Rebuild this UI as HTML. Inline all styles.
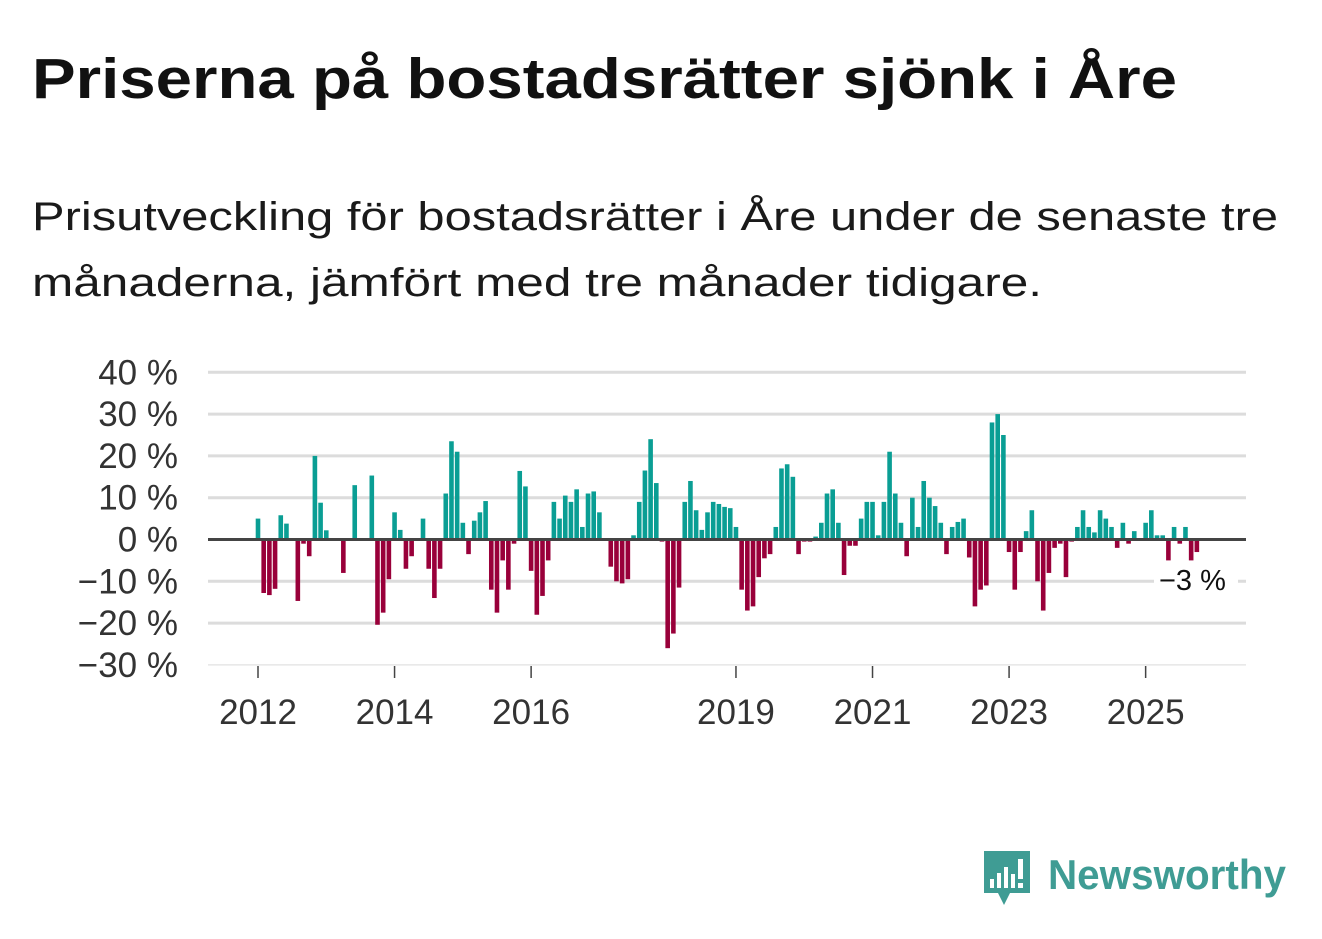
<!DOCTYPE html>
<html><head><meta charset="utf-8"><style>
html,body{margin:0;padding:0;background:#fff;}
svg{display:block;font-family:"Liberation Sans","DejaVu Sans",sans-serif;}
</style></head><body>
<svg id="chart" width="1322" height="939" viewBox="0 0 1322 939">
<text x="32" y="98" font-size="57" font-weight="bold" fill="#111" textLength="1145" lengthAdjust="spacingAndGlyphs">Priserna på bostadsrätter sjönk i Åre</text>
<text x="32" y="230" font-size="40" fill="#1a1a1a" textLength="1246" lengthAdjust="spacingAndGlyphs">Prisutveckling för bostadsrätter i Åre under de senaste tre</text>
<text x="32" y="296" font-size="40" fill="#1a1a1a" textLength="1010" lengthAdjust="spacingAndGlyphs">månaderna, jämfört med tre månader tidigare.</text>
<g id="grid"></g>
<g id="bars"></g>
<g id="axes"></g>
<g>
<rect x="1154" y="561" width="84" height="36" fill="#fff"/>
<text x="1159" y="590" font-size="29" fill="#111">−3 %</text>
</g>
<g>
<path d="M984 851 h46 v42 h-20 l-6 12 l-6 -12 h-14 z" fill="#3f9c94"/>
<rect x="990" y="879" width="4" height="9" fill="#fff"/><rect x="997" y="873" width="4" height="15" fill="#fff"/><rect x="1004" y="867" width="4" height="21" fill="#fff"/><rect x="1011" y="874" width="4" height="14" fill="#fff"/><rect x="1018" y="859" width="5" height="20" fill="#fff"/><rect x="1018" y="883" width="5" height="5" fill="#fff"/>
<text x="1048" y="889" font-size="42" font-weight="bold" fill="#3f9c94" textLength="238" lengthAdjust="spacingAndGlyphs">Newsworthy</text>
</g>
</svg>
<script>
const yTicks = [40, 30, 20, 10, 0, -10, -20, -30];
const yTickLabels = ["40 %", "30 %", "20 %", "10 %", "0 %", "−10 %", "−20 %", "−30 %"];
const xTickYears = [2012, 2014, 2016, 2019, 2021, 2023, 2025];
const startYear = 2012;
const values = [
5,-12.8,-13.3,-11.8,5.8,3.8,0,-14.7,-1,-4,20,8.8,2.2,0,0,-8,0,13,0,0,15.3,-20.4,-17.5,-9.5,6.5,2.3,-7,-4,0,5,
-7,-14,-7,11,23.5,21,4,-3.5,4.5,6.5,9.2,-12,-17.5,-5,-12,-1,16.4,12.7,-7.5,-18,-13.5,-5,9,5,10.5,9,12,3,11,11.5,
6.5,0,-6.5,-10,-10.5,-9.5,1,9,16.5,24,13.5,-0.5,-26,-22.5,-11.5,9,14,7,2.3,6.5,9,8.5,7.8,7.5,3,-12,-17,-16,-9,-4.5,
-3.5,3,17,18,15,-3.5,-0.5,-0.5,0.7,4,11,12,4,-8.5,-1.5,-1.5,5,9,9,1,9,21,11,4,-4,10,3,14,10,8,
4,-3.5,3,4.2,5,-4.3,-16,-12,-11,28,30,25,-3,-12,-3,2,7,-10,-17,-8,-2,-1,-9,-0.5,3,7,3,1.7,7,5,
3,-2,4,-1,2,0,4,7,1,1,-5,3,-1,3,-5,-3
];
const NS="http://www.w3.org/2000/svg";
const x0=208,x1=1246;
function yScale(v){return 539.5 - v*4.18;}
function xScale(i){return 258 + i*5.69;}
function mk(tag,attrs,parent){const e=document.createElementNS(NS,tag);for(const k in attrs)e.setAttribute(k,attrs[k]);parent.appendChild(e);return e;}
const grid=document.getElementById('grid'),bars=document.getElementById('bars'),axes=document.getElementById('axes');
yTicks.forEach((t,k)=>{
  if(t!==0){const l=mk('line',{x1:x0,x2:x1,y1:yScale(t),y2:yScale(t),stroke:t===-30?'#e6e6e6':'#dcdcdc','stroke-width':t===-30?1.5:3},grid);
  
  }
  const tx=mk('text',{x:178,y:yScale(t)+12,'text-anchor':'end','font-size':35,fill:'#333'},axes);
  tx.textContent=yTickLabels[k];
  
  
});
values.forEach((v,i)=>{
  const y=yScale(Math.max(v,0)),h=Math.abs(v)*4.18;
  const r=mk('rect',{x:xScale(i)-2.3,y:y,width:4.6,height:h,fill:v>=0?'#0a9e94':'#99003a'},bars);
  
  
});
const z=mk('line',{x1:x0,x2:x1,y1:yScale(0),y2:yScale(0),stroke:'#444','stroke-width':3},axes);


xTickYears.forEach(yr=>{
  const x=xScale((yr-startYear)*12);
  const tk=mk('line',{x1:x,x2:x,y1:666,y2:678,stroke:'#444','stroke-width':1.5},axes);
  
  
  const tx=mk('text',{x:x,y:724,'text-anchor':'middle','font-size':35,fill:'#333'},axes);
  tx.textContent=String(yr);
  
  
});
</script>
</body></html>
